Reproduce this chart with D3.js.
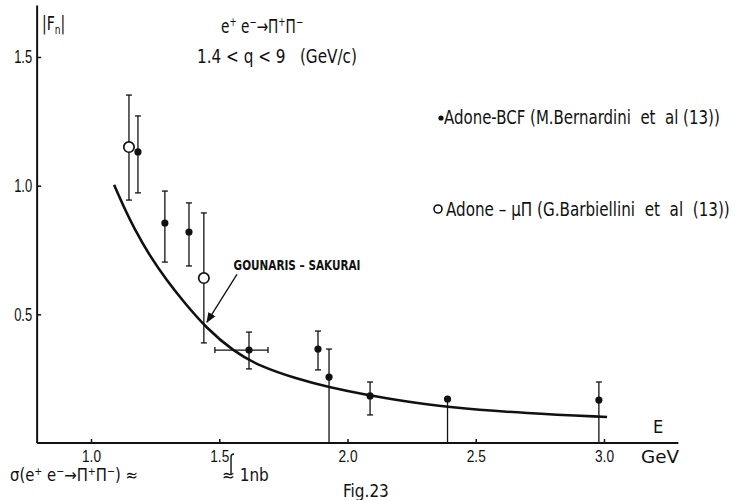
<!DOCTYPE html>
<html>
<head>
<meta charset="utf-8">
<script src="https://cdn.jsdelivr.net/npm/d3@7"></script>
<style>
  body { margin: 0; background: #fff; }
  svg { display: block; font-family: 'DejaVu Sans', sans-serif; font-stretch: condensed; }
</style>
</head>
<body>
<svg id="chart" width="739" height="500"></svg>
<script>
// Adone-BCF (filled dots)
const bcfE  = [1.183, 1.288, 1.382, 1.616, 1.885, 1.928, 2.088, 2.39, 2.98];
const bcfF  = [1.131, 0.855, 0.820, 0.361, 0.365, 0.256, 0.183, 0.171, 0.167];
const bcfHi = [1.271, 0.979, 0.933, 0.431, 0.435, 0.365, 0.237, 0.171, 0.237];
const bcfLo = [0.972, 0.703, 0.688, 0.288, 0.284, 0,     0.109, 0,     0];
// horizontal error of the 1.616 point
const bcfXLo = [null, null, null, 1.483, null, null, null, null, null];
const bcfXHi = [null, null, null, 1.690, null, null, null, null, null];

// Adone-muPi (open circles)
const muE  = [1.148, 1.44];
const muF  = [1.150, 0.641];
const muHi = [1.352, 0.894];
const muLo = [0.944, 0.389];

// Gounaris-Sakurai curve
const gsE = [1.090, 1.133, 1.165, 1.230, 1.295, 1.360, 1.448, 1.555, 1.659, 1.800, 1.928, 2.088, 2.200, 2.392, 2.700, 3.012];
const gsF = [1.003, 0.906, 0.841, 0.725, 0.633, 0.550, 0.448, 0.356, 0.298, 0.250, 0.216, 0.184, 0.166, 0.138, 0.115, 0.101];

const xTicks = [1.0, 1.5, 2.0, 2.5, 3.0];
const xTickLabels = ["1.0", "1.5", "2.0", "2.5", "3.0"];
const yTicks = [0.5, 1.0, 1.5];
const yTickLabels = ["0.5", "1.0", "1.5"];
const legendLabels = ["Adone-BCF (M.Bernardini  et  al (13))", "Adone – μΠ (G.Barbiellini  et  al  (13))"];

const svg = d3.select("#chart");
const x = d3.scaleLinear().domain([1, 3]).range([91, 604]);
const y = d3.scaleLinear().domain([0, 1.5]).range([443, 57]);
const ink = "#111";

// text squeezed horizontally (the original lettering is condensed)
function squeezed(px, py, size, sx) {
  return svg.append("g").attr("transform", `translate(${px},${py}) scale(${sx},1)`)
    .append("text").attr("font-size", size).attr("fill", ink).attr("xml:space", "preserve");
}
// squeeze a finished text so it spans the given width
function fitTo(t, width) {
  const w = t.node().getComputedTextLength();
  const g = d3.select(t.node().parentNode);
  g.attr("transform", g.attr("transform").replace(/scale\([^)]*\)/, `scale(${width / w},1)`));
}
// parts: [text, isSuperscript]
function supText(t, parts, small, up) {
  let shift = 0;
  parts.forEach(p => {
    const ts = t.append("tspan").text(p[0]);
    const target = p[1] ? -up : 0;
    if (target !== shift) ts.attr("dy", target - shift);
    shift = target;
    if (p[1]) ts.attr("font-size", small);
  });
}

// axes
svg.append("line").attr("x1", x(0.79)).attr("x2", x(3.29))
  .attr("y1", y(0)).attr("y2", y(0)).attr("stroke", ink).attr("stroke-width", 2);
svg.append("line").attr("x1", x(0.79)).attr("x2", x(0.79))
  .attr("y1", y(0)).attr("y2", y(1.7)).attr("stroke", ink).attr("stroke-width", 2);

const xAxis = d3.axisBottom(x).tickValues(xTicks)
  .tickFormat((d, i) => xTickLabels[i]).tickSizeInner(-4).tickSizeOuter(0).tickPadding(7);
const gx = svg.append("g").attr("transform", `translate(0,${y(0)})`).call(xAxis);
gx.select(".domain").remove();
gx.selectAll("line").attr("stroke", ink).attr("stroke-width", 1.5);
gx.selectAll("text").attr("font-size", 17).attr("fill", ink)
  .attr("textLength", 19).attr("lengthAdjust", "spacingAndGlyphs");

const yAxis = d3.axisLeft(y).tickValues(yTicks)
  .tickFormat((d, i) => yTickLabels[i]).tickSizeInner(-4).tickSizeOuter(0).tickPadding(5);
const gy = svg.append("g").attr("transform", `translate(${x(0.79)},0)`).call(yAxis);
gy.select(".domain").remove();
gy.selectAll("line").attr("stroke", ink).attr("stroke-width", 1.5);
gy.selectAll("text").attr("font-size", 18).attr("fill", ink)
  .attr("textLength", 18).attr("lengthAdjust", "spacingAndGlyphs");

// curve
svg.append("path")
  .datum(gsE.map((e, i) => [e, gsF[i]]))
  .attr("d", d3.line().x(d => x(d[0])).y(d => y(d[1])).curve(d3.curveBasis))
  .attr("fill", "none").attr("stroke", ink).attr("stroke-width", 2.6);

// error bars
function errBars(E, F, Hi, Lo, sw) {
  const g = svg.append("g").attr("stroke", ink).attr("stroke-width", sw);
  E.forEach((e, i) => {
    g.append("line").attr("x1", x(e)).attr("x2", x(e)).attr("y1", y(Hi[i])).attr("y2", y(Lo[i]));
    if (Hi[i] > F[i]) g.append("line").attr("x1", x(e) - 3).attr("x2", x(e) + 3).attr("y1", y(Hi[i])).attr("y2", y(Hi[i]));
    if (Lo[i] > 0) g.append("line").attr("x1", x(e) - 3).attr("x2", x(e) + 3).attr("y1", y(Lo[i])).attr("y2", y(Lo[i]));
  });
}
errBars(bcfE, bcfF, bcfHi, bcfLo, 1.3);
errBars(muE, muF, muHi, muLo, 1.3);

// horizontal error
bcfE.forEach((e, i) => {
  if (bcfXLo[i] == null) return;
  const g = svg.append("g").attr("stroke", ink).attr("stroke-width", 1.3);
  g.append("line").attr("x1", x(bcfXLo[i])).attr("x2", x(bcfXHi[i])).attr("y1", y(bcfF[i])).attr("y2", y(bcfF[i]));
  [bcfXLo[i], bcfXHi[i]].forEach(v => g.append("line").attr("x1", x(v)).attr("x2", x(v))
    .attr("y1", y(bcfF[i]) - 3).attr("y2", y(bcfF[i]) + 3));
});

// markers
svg.append("g").selectAll("circle").data(bcfE).enter().append("circle")
  .attr("cx", d => x(d)).attr("cy", (d, i) => y(bcfF[i])).attr("r", 3.6).attr("fill", ink);
svg.append("g").selectAll("circle").data(muE).enter().append("circle")
  .attr("cx", d => x(d)).attr("cy", (d, i) => y(muF[i])).attr("r", 5.2)
  .attr("fill", "#fff").attr("stroke", ink).attr("stroke-width", 1.7);

// annotation
const gsLabelAt = [1.556, 0.672];
const gsArrowFrom = [1.569, 0.655];
const gsArrowTo = [1.452, 0.47];
svg.append("defs").append("marker").attr("id", "ah").attr("viewBox", "0 0 10 10")
  .attr("refX", 9).attr("refY", 5).attr("markerWidth", 8).attr("markerHeight", 8).attr("orient", "auto")
  .append("path").attr("d", "M0,1 L10,5 L0,9 z").attr("fill", ink);
svg.append("line").attr("x1", x(gsArrowFrom[0])).attr("y1", y(gsArrowFrom[1]))
  .attr("x2", x(gsArrowTo[0])).attr("y2", y(gsArrowTo[1]))
  .attr("stroke", ink).attr("stroke-width", 1.3).attr("marker-end", "url(#ah)");
const gsLab = squeezed(x(gsLabelAt[0]), y(gsLabelAt[1]), 14, 1).attr("font-weight", "bold").text("GOUNARIS – SAKURAI");
fitTo(gsLab, 127);

// y label |F_n|
const yl = squeezed(42, 30, 20, 0.78);
yl.append("tspan").text("|F");
yl.append("tspan").attr("font-size", 13).attr("dy", 4).text("n");
yl.append("tspan").attr("dy", -4).text("|");

// title
const t1 = squeezed(221, 33, 19, 0.8);
supText(t1, [["e"], ["+", 1], [" e"], ["−", 1], ["→Π"], ["+", 1], ["Π"], ["−", 1]], 12, 7);
const t2 = squeezed(197, 63, 19, 1).text("1.4 < q < 9   (GeV/c)");
fitTo(t2, 160);

// legend
svg.append("circle").attr("cx", 441).attr("cy", 118).attr("r", 2.6).attr("fill", ink);
const l1 = squeezed(444, 124, 19, 1).text(legendLabels[0]);
fitTo(l1, 276);
svg.append("circle").attr("cx", 438).attr("cy", 209).attr("r", 4).attr("fill", "#fff")
  .attr("stroke", ink).attr("stroke-width", 1.6);
const l2 = squeezed(446, 216, 19, 1).text(legendLabels[1]);
fitTo(l2, 284);

// axis name
svg.append("text").attr("x", 653).attr("y", 433).attr("font-size", 18).attr("fill", ink).text("E");
const gev = squeezed(641, 463, 18, 1).text("GeV");
fitTo(gev, 38);

// bottom notes
const b1 = squeezed(10, 481, 17, 0.97);
supText(b1, [["σ(e"], ["+", 1], [" e"], ["−", 1], ["→Π"], ["+", 1], ["Π"], ["−", 1], [") ≈"]], 11, 6);
const nbAt = 1.542;
svg.append("path").attr("d", `M${x(nbAt) + 1},474 L${x(nbAt) + 1},457 q0,-3 3,-3`)
  .attr("fill", "none").attr("stroke", ink).attr("stroke-width", 1.4);
svg.append("text").attr("x", 222).attr("y", 481).attr("font-size", 17).attr("fill", ink).text("≈ 1nb");
svg.append("text").attr("x", 343).attr("y", 497).attr("font-size", 17).attr("fill", ink).text("Fig.23");
</script>
</body>
</html>
